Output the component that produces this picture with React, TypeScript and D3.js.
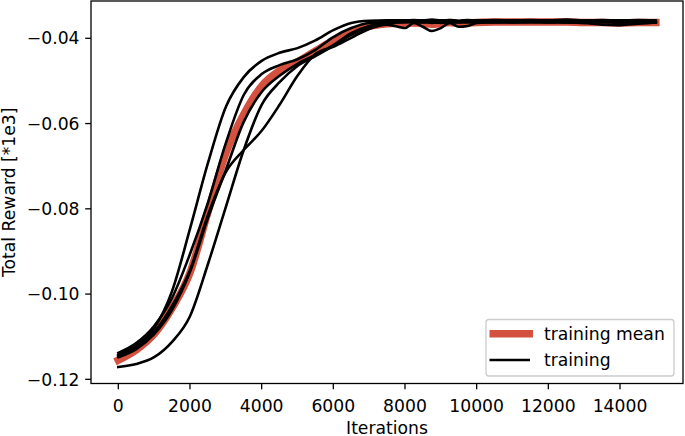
import React from "react";
import * as d3 from "d3";

const ITER = [0,500,1000,1500,2000,2500,3000,3500,4000,4500,5000,5500,6000,6500,7000,7500,8000,8250,8500,8750,9000,9250,9500,9750,10000,10500,11000,11500,12000,12500,13000,13500,14000,14500,15000];

const RUN_A = [-0.1143,-0.1120,-0.1080,-0.0993,-0.0847,-0.0693,-0.0561,-0.0491,-0.0453,-0.0434,-0.0423,-0.0405,-0.0381,-0.0364,-0.0359,-0.0358,-0.0358,
  -0.0357,-0.0358,-0.0356,-0.0358,-0.0357,-0.0359,-0.0357,-0.0358,-0.0357,-0.0358,-0.0357,-0.0358,-0.0356,-0.0358,-0.0357,-0.0358,-0.0357,-0.0358];
const RUN_B = [-0.1138,-0.1115,-0.1075,-0.1009,-0.0906,-0.0786,-0.0646,-0.0533,-0.0484,-0.0463,-0.0449,-0.0427,-0.0397,-0.0376,-0.0364,-0.0362,-0.0361,
  -0.0360,-0.0362,-0.0359,-0.0361,-0.0360,-0.0362,-0.0360,-0.0361,-0.0359,-0.0361,-0.0360,-0.0362,-0.0360,-0.0361,-0.0360,-0.0362,-0.0360,-0.0361];
const RUN_C = [-0.1148,-0.1129,-0.1094,-0.1037,-0.0948,-0.0822,-0.0709,-0.0596,-0.0526,-0.0488,-0.0460,-0.0439,-0.0416,-0.0388,-0.0371,-0.0364,-0.0362,
  -0.0363,-0.0361,-0.0364,-0.0362,-0.0363,-0.0361,-0.0363,-0.0362,-0.0363,-0.0362,-0.0361,-0.0363,-0.0362,-0.0364,-0.0362,-0.0363,-0.0362,-0.0363];
const RUN_D = [-0.1145,-0.1124,-0.1089,-0.1028,-0.0944,-0.0815,-0.0714,-0.0662,-0.0617,-0.0556,-0.0488,-0.0437,-0.0420,-0.0399,-0.0378,-0.0368,-0.0376,
  -0.0364,-0.0373,-0.0383,-0.0376,-0.0364,-0.0373,-0.0371,-0.0364,-0.0362,-0.0363,-0.0361,-0.0362,-0.0363,-0.0362,-0.0361,-0.0363,-0.0362,-0.0363];
const RUN_E = [-0.1171,-0.1164,-0.1148,-0.1112,-0.1052,-0.0930,-0.0796,-0.0662,-0.0556,-0.0503,-0.0465,-0.0442,-0.0418,-0.0392,-0.0373,-0.0364,-0.0362,
  -0.0361,-0.0363,-0.0362,-0.0364,-0.0362,-0.0363,-0.0361,-0.0362,-0.0361,-0.0362,-0.0363,-0.0361,-0.0362,-0.0364,-0.0368,-0.0369,-0.0366,-0.0363];
const MEAN = [-0.1155,-0.1131,-0.1094,-0.1033,-0.0950,-0.0808,-0.0670,-0.0578,-0.0512,-0.0476,-0.0455,-0.0430,-0.0405,-0.0385,-0.0372,-0.0366,-0.0364,
  -0.0364,-0.0365,-0.0367,-0.0365,-0.0363,-0.0365,-0.0364,-0.0363,-0.0362,-0.0362,-0.0362,-0.0362,-0.0362,-0.0363,-0.0363,-0.0364,-0.0363,-0.0363];

const RUNS = [RUN_A, RUN_B, RUN_C, RUN_D, RUN_E];

const X_TICKS = [0, 2000, 4000, 6000, 8000, 10000, 12000, 14000];
const Y_TICKS = [-0.12, -0.10, -0.08, -0.06, -0.04];
const X_LABEL = "Iterations";
const Y_LABEL = "Total Reward [*1e3]";
const LEGEND = ["training mean", "training"];

const W = 685, H = 436;
const L = 91, R = 683, T = 1, B = 383.5;
const FONT = "DejaVu Sans, sans-serif";
const FS = 17.2;
const RED = "#d4503f";

export default function App() {
  const x = d3.scaleLinear().domain([-762, 15758]).range([L, R]);
  const y = d3.scaleLinear().domain([-0.12098, -0.03125]).range([B, T]);
  const line = d3.line<number>()
    .x((_, i) => x(ITER[i]))
    .y((d) => y(d))
    .curve(d3.curveMonotoneX);
  const yfmt = d3.format(".2f");

  return (
    <svg width={W} height={H} style={{ position: "absolute", left: 0, top: 0, background: "#fff" }} fontFamily={FONT}>
      <rect x={0} y={0} width={W} height={H} fill="#fff" />
      <defs>
        <clipPath id="plot">
          <rect x={L} y={T} width={R - L} height={B - T} />
        </clipPath>
      </defs>
      <g clipPath="url(#plot)">
        <path d={line(MEAN) || ""} fill="none" stroke={RED} strokeWidth={7.5} strokeLinecap="square" strokeLinejoin="round" />
        {RUNS.map((r, k) => (
          <path key={k} d={line(r) || ""} fill="none" stroke="#000" strokeWidth={2.6} strokeLinecap="square" strokeLinejoin="round" />
        ))}
      </g>
      <rect x={L} y={T} width={R - L} height={B - T} fill="none" stroke="#000" strokeWidth={1.3} />
      {X_TICKS.map((t) => (
        <g key={t}>
          <line x1={x(t)} x2={x(t)} y1={B} y2={B + 5.8} stroke="#000" strokeWidth={1.3} />
          <text x={x(t)} y={B + 28} textAnchor="middle" fontSize={FS} fill="#000">{t}</text>
        </g>
      ))}
      {Y_TICKS.map((t) => (
        <g key={t}>
          <line x1={L - 5.8} x2={L} y1={y(t)} y2={y(t)} stroke="#000" strokeWidth={1.3} />
          <text x={L - 11.5} y={y(t)} dy="0.36em" textAnchor="end" fontSize={FS} fill="#000">{yfmt(t)}</text>
        </g>
      ))}
      <text x={(L + R) / 2} y={433.5} textAnchor="middle" fontSize={FS} fill="#000">{X_LABEL}</text>
      <text transform={`translate(15,${(T + B) / 2}) rotate(-90)`} textAnchor="middle" fontSize={FS} fill="#000">{Y_LABEL}</text>
      <rect x={486} y={319.5} width={188} height={56.5} rx={3} ry={3} fill="#fff" fillOpacity={0.8} stroke="#cccccc" strokeWidth={1.3} />
      <line x1={489.5} x2={533} y1={333.7} y2={333.7} stroke={RED} strokeWidth={7.5} />
      <text x={544} y={333.7} dy="0.36em" fontSize={FS} fill="#000">{LEGEND[0]}</text>
      <line x1={489.5} x2={530} y1={360} y2={360} stroke="#000" strokeWidth={2.6} />
      <text x={544} y={360} dy="0.36em" fontSize={FS} fill="#000">{LEGEND[1]}</text>
    </svg>
  );
}
